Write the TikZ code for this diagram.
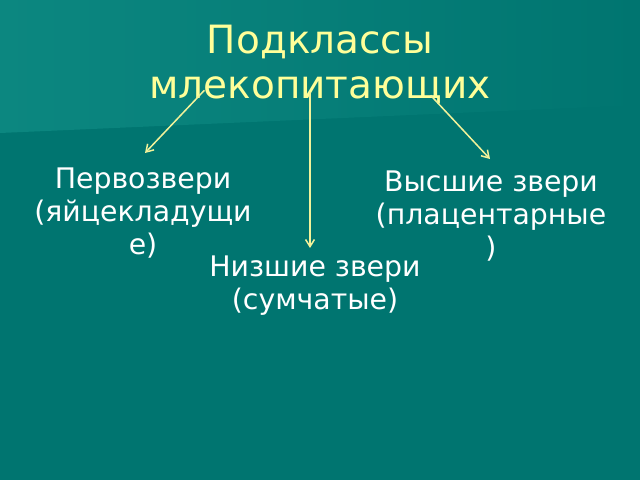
\documentclass[tikz,border=0pt]{standalone}
\usepackage{fontspec}
\setmainfont{DejaVu Sans}
\usepackage{xcolor}
\usetikzlibrary{positioning, arrows.meta, calc}

\definecolor{slidebg}{HTML}{007570}
\definecolor{slideband}{HTML}{0C8780}
\definecolor{titleyellow}{HTML}{FFFF99}
\definecolor{arrowyellow}{HTML}{F2F29A}

\begin{document}
\begin{tikzpicture}[x=0.0396875cm, y=-0.0396875cm]
        % Background
        \useasboundingbox (0,0) rectangle (640,480);
        \fill[slidebg] (0,0) rectangle (640,480);
        \shade[left color=slideband, right color=slidebg] (0,0) -- (640,0) -- (640,105) -- (0,133) -- cycle;

        % Define the nodes
        \node[align=center, inner sep=0pt, anchor=north, text=titleyellow, font=\fontsize{44}{51}\selectfont] (title) at (320,25) {Подклассы\\млекопитающих};

        \node[align=center, inner sep=0pt, anchor=north, text=white, font=\fontsize{32}{37}\selectfont] (pervo) at (143,168) {Первозвери\\(яйцекладущи\\е)};
        \node[align=center, inner sep=0pt, anchor=north, text=white, font=\fontsize{32}{37}\selectfont] (nizh) at (315,256) {Низшие звери\\(сумчатые)};
        \node[align=center, inner sep=0pt, anchor=north, text=white, font=\fontsize{32}{37}\selectfont] (vys) at (491,171) {Высшие звери\\(плацентарные\\)};

        % Define the edges
        \draw[-{Straight Barb[length=8pt,width=10pt]}, arrowyellow, line width=1.7pt] ($(title.south west)+(55,-14)$) -- ($(pervo.north)+(2,-15)$);
        \draw[-{Straight Barb[length=8pt,width=10pt]}, arrowyellow, line width=1.7pt] ($(title.south)+(-10,-12)$) -- ($(nizh.north)+(-5,-8)$);
        \draw[-{Straight Barb[length=8pt,width=10pt]}, arrowyellow, line width=1.7pt] ($(title.south east)+(-60,-9)$) -- ($(vys.north)+(-1,-12)$);
    \end{tikzpicture}
\end{document}
